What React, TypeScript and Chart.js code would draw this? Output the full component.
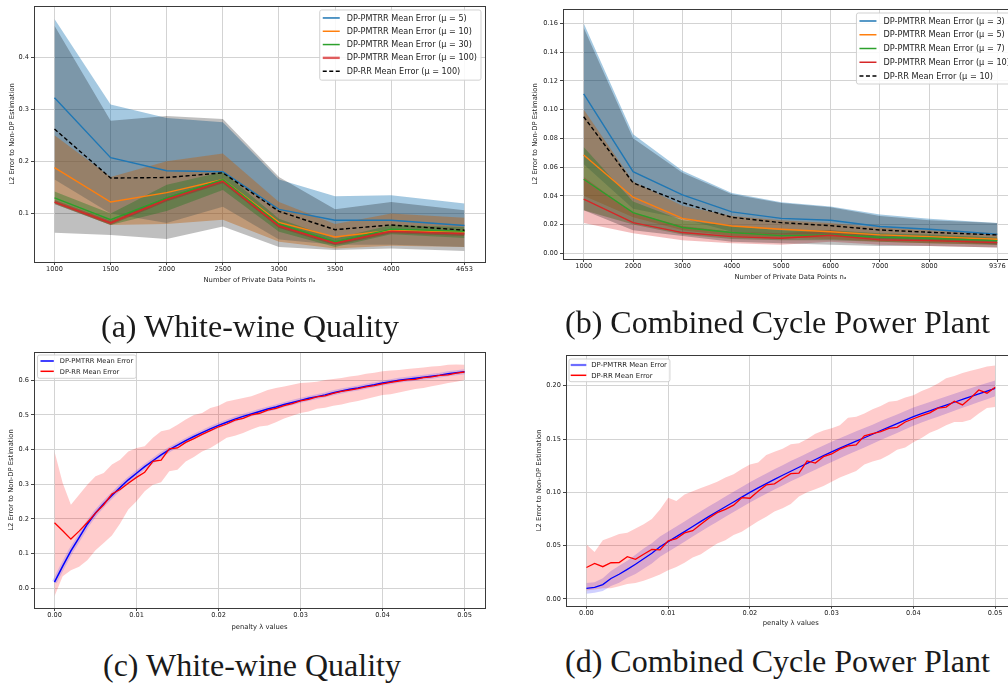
import React, { useEffect, useRef } from "react";
import { Chart, registerables } from "chart.js";
Chart.register(...registerables);
Chart.defaults.font.family = '"DejaVu Sans", sans-serif';

// ---------------- (a) White-wine Quality ----------------
const aSizes = [1000, 1500, 2000, 2500, 3000, 3500, 4000, 4653];
const aXTicks = [1000, 1500, 2000, 2500, 3000, 3500, 4000, 4653];
const aYTicks = [0.1, 0.2, 0.3, 0.4];
const aMu5Mean = [0.322, 0.207, 0.182, 0.180, 0.108, 0.087, 0.087, 0.077];
const aMu5Hi = [0.473, 0.309, 0.283, 0.275, 0.165, 0.133, 0.135, 0.119];
const aMu5Lo = [0.165, 0.100, 0.082, 0.113, 0.050, 0.040, 0.040, 0.036];
const aMu10Mean = [0.188, 0.122, 0.140, 0.165, 0.083, 0.055, 0.068, 0.065];
const aMu10Hi = [0.250, 0.170, 0.200, 0.215, 0.122, 0.080, 0.100, 0.092];
const aMu10Lo = [0.120, 0.078, 0.080, 0.088, 0.046, 0.033, 0.038, 0.036];
const aMu30Mean = [0.130, 0.088, 0.130, 0.165, 0.080, 0.046, 0.070, 0.066];
const aMu30Hi = [0.142, 0.100, 0.155, 0.180, 0.090, 0.052, 0.078, 0.074];
const aMu30Lo = [0.118, 0.078, 0.105, 0.145, 0.065, 0.036, 0.060, 0.053];
const aMu100Mean = [0.122, 0.082, 0.127, 0.162, 0.076, 0.043, 0.066, 0.061];
const aMu100Hi = [0.126, 0.086, 0.131, 0.166, 0.080, 0.047, 0.070, 0.065];
const aMu100Lo = [0.118, 0.078, 0.123, 0.158, 0.072, 0.039, 0.062, 0.057];
const aRrMean = [0.262, 0.168, 0.169, 0.178, 0.104, 0.069, 0.078, 0.068];
const aRrHi = [0.460, 0.278, 0.287, 0.281, 0.170, 0.108, 0.122, 0.106];
const aRrLo = [0.063, 0.059, 0.051, 0.075, 0.036, 0.030, 0.033, 0.028];

// ---------------- (b) Combined Cycle Power Plant ----------------
const bSizes = [1000, 2000, 3000, 4000, 5000, 6000, 7000, 8000, 9376];
const bXTicks = [1000, 2000, 3000, 4000, 5000, 6000, 7000, 8000, 9376];
const bYTicks = [0, 0.02, 0.04, 0.06, 0.08, 0.1, 0.12, 0.14, 0.16];
const bMu3Mean = [0.111, 0.0568, 0.0406, 0.0288, 0.0243, 0.023, 0.0186, 0.0167, 0.0132];
const bMu3Hi = [0.160, 0.0828, 0.0575, 0.042, 0.0355, 0.0325, 0.027, 0.024, 0.021];
const bMu3Lo = [0.062, 0.031, 0.024, 0.015, 0.013, 0.013, 0.010, 0.009, 0.006];
const bMu5Mean = [0.0684, 0.039, 0.0243, 0.019, 0.0167, 0.015, 0.0128, 0.0116, 0.0097];
const bMu5Hi = [0.100, 0.050, 0.033, 0.026, 0.023, 0.021, 0.018, 0.016, 0.014];
const bMu5Lo = [0.040, 0.025, 0.016, 0.012, 0.011, 0.010, 0.008, 0.007, 0.006];
const bMu7Mean = [0.0515, 0.0283, 0.0179, 0.0144, 0.0123, 0.0128, 0.0111, 0.0104, 0.0088];
const bMu7Hi = [0.074, 0.036, 0.023, 0.019, 0.016, 0.016, 0.014, 0.013, 0.011];
const bMu7Lo = [0.030, 0.020, 0.013, 0.010, 0.009, 0.009, 0.008, 0.007, 0.006];
const bMu10Mean = [0.0376, 0.0213, 0.0144, 0.0116, 0.0104, 0.0125, 0.0093, 0.0088, 0.0074];
const bMu10Hi = [0.053, 0.028, 0.019, 0.015, 0.014, 0.016, 0.012, 0.011, 0.010];
const bMu10Lo = [0.021, 0.014, 0.009, 0.007, 0.006, 0.008, 0.006, 0.005, 0.004];
const bRrMean = [0.095, 0.049, 0.0352, 0.025, 0.0213, 0.0192, 0.0162, 0.0146, 0.0128];
const bRrHi = [0.157, 0.080, 0.056, 0.041, 0.035, 0.032, 0.026, 0.023, 0.021];
const bRrLo = [0.030, 0.016, 0.012, 0.008, 0.007, 0.006, 0.005, 0.005, 0.004];

// ---------------- penalty lambda values (c, d) ----------------
const lambdas = [0, 0.001, 0.002, 0.003, 0.004, 0.005, 0.006, 0.007, 0.008, 0.009,
  0.01, 0.011, 0.012, 0.013, 0.014, 0.015, 0.016, 0.017, 0.018, 0.019,
  0.02, 0.021, 0.022, 0.023, 0.024, 0.025, 0.026, 0.027, 0.028, 0.029,
  0.03, 0.031, 0.032, 0.033, 0.034, 0.035, 0.036, 0.037, 0.038, 0.039,
  0.04, 0.041, 0.042, 0.043, 0.044, 0.045, 0.046, 0.047, 0.048, 0.049, 0.05];
const lamTicks = [0, 0.01, 0.02, 0.03, 0.04, 0.05];

// (c) White-wine Quality
const cYTicks = [0, 0.1, 0.2, 0.3, 0.4, 0.5, 0.6];
const cPmMean = [0.018, 0.064, 0.108, 0.146, 0.185, 0.217, 0.244, 0.268, 0.291, 0.313,
  0.332, 0.351, 0.368, 0.385, 0.400, 0.413, 0.426, 0.438, 0.449, 0.460,
  0.470, 0.479, 0.488, 0.496, 0.503, 0.510, 0.517, 0.523, 0.530, 0.536,
  0.542, 0.548, 0.553, 0.558, 0.564, 0.569, 0.574, 0.578, 0.583, 0.587,
  0.592, 0.596, 0.600, 0.603, 0.606, 0.609, 0.612, 0.615, 0.619, 0.622, 0.625];
const cRrMean = [0.189, 0.166, 0.142, 0.165, 0.190, 0.217, 0.241, 0.272, 0.285, 0.303,
  0.320, 0.335, 0.366, 0.370, 0.402, 0.405, 0.421, 0.432, 0.444, 0.455,
  0.466, 0.474, 0.485, 0.490, 0.500, 0.505, 0.514, 0.519, 0.527, 0.533,
  0.541, 0.545, 0.552, 0.555, 0.562, 0.568, 0.572, 0.576, 0.581, 0.585,
  0.590, 0.594, 0.598, 0.601, 0.603, 0.608, 0.610, 0.614, 0.616, 0.621, 0.624];
const cRrHi = [0.395, 0.304, 0.241, 0.270, 0.299, 0.323, 0.333, 0.357, 0.371, 0.395,
  0.405, 0.410, 0.434, 0.453, 0.458, 0.472, 0.487, 0.500, 0.506, 0.520,
  0.527, 0.539, 0.544, 0.549, 0.554, 0.563, 0.572, 0.578, 0.582, 0.587,
  0.592, 0.594, 0.596, 0.601, 0.604, 0.607, 0.611, 0.614, 0.619, 0.622,
  0.626, 0.628, 0.630, 0.633, 0.635, 0.637, 0.640, 0.641, 0.645, 0.646, 0.645];
const cRrLo = [-0.023, 0.035, 0.052, 0.062, 0.081, 0.110, 0.131, 0.152, 0.187, 0.227,
  0.251, 0.280, 0.299, 0.306, 0.338, 0.342, 0.366, 0.379, 0.395, 0.405,
  0.419, 0.434, 0.440, 0.448, 0.458, 0.467, 0.470, 0.479, 0.490, 0.498,
  0.506, 0.510, 0.518, 0.521, 0.527, 0.530, 0.536, 0.540, 0.546, 0.552,
  0.558, 0.560, 0.565, 0.570, 0.575, 0.578, 0.583, 0.587, 0.592, 0.596, 0.601];

// (d) Combined Cycle Power Plant
const dYTicks = [0, 0.05, 0.1, 0.15, 0.2];
const dPmMean = [0.0100, 0.0108, 0.0135, 0.0192, 0.0232, 0.0278, 0.0325, 0.0378, 0.0428, 0.0490,
  0.0538, 0.0585, 0.0632, 0.0680, 0.0728, 0.0775, 0.0820, 0.0865, 0.0910, 0.0955,
  0.1000, 0.1042, 0.1082, 0.1122, 0.1160, 0.1198, 0.1235, 0.1272, 0.1308, 0.1344,
  0.1380, 0.1414, 0.1448, 0.1480, 0.1512, 0.1545, 0.1580, 0.1612, 0.1644, 0.1677,
  0.1710, 0.1738, 0.1765, 0.1792, 0.1818, 0.1845, 0.1872, 0.1898, 0.1924, 0.1950, 0.1975];
const dPmHi = [0.0150, 0.0158, 0.0195, 0.0262, 0.0312, 0.0358, 0.0415, 0.0473, 0.0523, 0.0585,
  0.0633, 0.0680, 0.0727, 0.0775, 0.0823, 0.0870, 0.0915, 0.0960, 0.1005, 0.1050,
  0.1095, 0.1137, 0.1177, 0.1217, 0.1255, 0.1293, 0.1330, 0.1367, 0.1403, 0.1439,
  0.1475, 0.1508, 0.1541, 0.1572, 0.1603, 0.1635, 0.1669, 0.1700, 0.1731, 0.1763,
  0.1795, 0.1822, 0.1848, 0.1874, 0.1899, 0.1925, 0.1951, 0.1976, 0.2001, 0.2026, 0.2050];
const dPmLo = [0.0050, 0.0058, 0.0075, 0.0122, 0.0152, 0.0198, 0.0235, 0.0283, 0.0333, 0.0395,
  0.0443, 0.0490, 0.0537, 0.0585, 0.0633, 0.0680, 0.0725, 0.0770, 0.0815, 0.0860,
  0.0905, 0.0947, 0.0987, 0.1027, 0.1065, 0.1103, 0.1140, 0.1177, 0.1213, 0.1249,
  0.1285, 0.1320, 0.1355, 0.1388, 0.1421, 0.1455, 0.1491, 0.1524, 0.1557, 0.1591,
  0.1625, 0.1654, 0.1682, 0.1710, 0.1737, 0.1765, 0.1793, 0.1820, 0.1847, 0.1874, 0.1900];
const dRrMean = [0.0295, 0.0334, 0.0303, 0.0340, 0.0342, 0.0397, 0.0372, 0.0420, 0.0465, 0.0460,
  0.0545, 0.0565, 0.0620, 0.0640, 0.0700, 0.0760, 0.0810, 0.0840, 0.0880, 0.0950,
  0.0945, 0.1010, 0.1070, 0.1080, 0.1130, 0.1175, 0.1180, 0.1295, 0.1275, 0.1335,
  0.1360, 0.1405, 0.1435, 0.1445, 0.1530, 0.1550, 0.1570, 0.1600, 0.1610, 0.1660,
  0.1690, 0.1720, 0.1745, 0.1790, 0.1800, 0.1855, 0.1820, 0.1885, 0.1960, 0.1930, 0.1985];
const dRrHi = [0.051, 0.044, 0.055, 0.058, 0.061, 0.062, 0.066, 0.070, 0.075, 0.084,
  0.095, 0.092, 0.098, 0.101, 0.104, 0.107, 0.110, 0.114, 0.117, 0.122,
  0.126, 0.128, 0.135, 0.138, 0.141, 0.145, 0.146, 0.150, 0.155, 0.158,
  0.160, 0.163, 0.170, 0.171, 0.174, 0.178, 0.181, 0.185, 0.186, 0.189,
  0.191, 0.195, 0.198, 0.202, 0.207, 0.209, 0.212, 0.214, 0.216, 0.218, 0.219];
const dRrLo = [0.008, 0.009, 0.010, 0.010, 0.012, 0.014, 0.015, 0.017, 0.020, 0.023,
  0.027, 0.030, 0.034, 0.039, 0.042, 0.047, 0.052, 0.055, 0.060, 0.063,
  0.068, 0.073, 0.077, 0.082, 0.085, 0.089, 0.096, 0.100, 0.103, 0.106,
  0.110, 0.114, 0.117, 0.120, 0.126, 0.129, 0.131, 0.135, 0.140, 0.142,
  0.147, 0.151, 0.156, 0.159, 0.163, 0.166, 0.166, 0.168, 0.174, 0.179, 0.180];

// ---------------- styling ----------------
const C0 = "#1f77b4", C1 = "#ff7f0e", C2 = "#2ca02c", C3 = "#d62728";
const TXT = "#222222";

type Series = {
  label: string; mean: number[]; hi?: number[]; lo?: number[];
  color: string; fill?: string; dash?: number[]; width?: number; halo?: string;
};

type PanelSpec = {
  xs: number[]; series: Series[];
  xMin: number; xMax: number; yMin: number; yMax: number;
  xTicks: number[]; yTicks: number[]; xDec: number; yDec: number;
  xTitle: string; yTitle: string;
  padding: { left: number; right: number; top: number; bottom: number };
  yWidth: number; xHeight: number; yTitlePad: number;
  legend: any;
};

const framePlugin = {
  id: "mplFrame",
  afterDatasetsDraw(chart: any) {
    const { ctx, chartArea } = chart;
    const { left, top, right, bottom } = chartArea;
    ctx.save();
    ctx.strokeStyle = "#3a3a3a";
    ctx.lineWidth = 1;
    ctx.strokeRect(Math.round(left) + 0.5, Math.round(top) + 0.5,
      Math.round(right) - Math.round(left), Math.round(bottom) - Math.round(top));
    ctx.restore();
  },
};

const legendPlugin = {
  id: "mplLegend",
  afterDatasetsDraw(chart: any, _args: any, opts: any) {
    if (!opts || !opts.items) return;
    const { ctx, chartArea } = chart;
    ctx.save();
    ctx.font = `${opts.fontSize}px "DejaVu Sans"`;
    let maxW = 0;
    opts.items.forEach((it: any) => { maxW = Math.max(maxW, ctx.measureText(it.label).width); });
    const w = opts.textOffset + maxW + opts.padRight;
    const h = opts.rowOffset + (opts.items.length - 1) * opts.spacing + opts.padBottom;
    const x0 = opts.corner === "right" ? chartArea.right - opts.mx - w : chartArea.left + opts.mx;
    const y0 = chartArea.top + opts.my;
    ctx.beginPath();
    const r = 2;
    ctx.moveTo(x0 + r, y0);
    ctx.lineTo(x0 + w - r, y0); ctx.quadraticCurveTo(x0 + w, y0, x0 + w, y0 + r);
    ctx.lineTo(x0 + w, y0 + h - r); ctx.quadraticCurveTo(x0 + w, y0 + h, x0 + w - r, y0 + h);
    ctx.lineTo(x0 + r, y0 + h); ctx.quadraticCurveTo(x0, y0 + h, x0, y0 + h - r);
    ctx.lineTo(x0, y0 + r); ctx.quadraticCurveTo(x0, y0, x0 + r, y0);
    ctx.closePath();
    ctx.fillStyle = "rgba(255,255,255,0.85)";
    ctx.fill();
    ctx.strokeStyle = "rgba(204,204,204,0.9)";
    ctx.lineWidth = 1;
    ctx.stroke();
    opts.items.forEach((it: any, i: number) => {
      const y = y0 + opts.rowOffset + i * opts.spacing;
      ctx.beginPath();
      ctx.setLineDash(it.dash || []);
      ctx.strokeStyle = it.color;
      ctx.lineWidth = it.width || 1.5;
      ctx.moveTo(x0 + opts.lineStart, y);
      ctx.lineTo(x0 + opts.lineEnd, y);
      ctx.stroke();
      ctx.setLineDash([]);
      ctx.fillStyle = TXT;
      ctx.textBaseline = "middle";
      ctx.textAlign = "left";
      ctx.fillText(it.label, x0 + opts.textOffset, y + 0.5);
    });
    ctx.restore();
  },
};

Chart.register(framePlugin, legendPlugin);

function pts(xs: number[], ys: number[]) {
  return xs.map((x, i) => ({ x, y: ys[i] }));
}

function buildConfig(p: PanelSpec): any {
  const datasets: any[] = [];
  p.series.forEach((s, i) => {
    if (s.hi && s.lo) {
      datasets.push({
        data: pts(p.xs, s.hi), borderColor: "rgba(0,0,0,0)", borderWidth: 0,
        pointRadius: 0, fill: false, order: 200 - i,
      });
      datasets.push({
        data: pts(p.xs, s.lo), borderColor: "rgba(0,0,0,0)", borderWidth: 0,
        pointRadius: 0, fill: "-1", backgroundColor: s.fill, order: 200 - i,
      });
    }
  });
  p.series.forEach((s, i) => {
    if (s.halo) {
      datasets.push({
        data: pts(p.xs, s.mean), borderColor: s.halo, borderWidth: 5,
        pointRadius: 0, fill: false, order: 100 - i,
      });
    }
  });
  p.series.forEach((s, i) => {
    datasets.push({
      label: s.label, data: pts(p.xs, s.mean), borderColor: s.color,
      borderWidth: s.width || 1.4, borderDash: s.dash || [], pointRadius: 0,
      fill: false, order: 50 - i,
    });
  });
  const tickFont = { size: 6.6 };
  const titleFont = { size: 6.8 };
  return {
    type: "line",
    data: { datasets },
    options: {
      responsive: false, animation: false, devicePixelRatio: 1, events: [],
      layout: { padding: p.padding },
      elements: { line: { tension: 0 } },
      plugins: {
        legend: { display: false }, tooltip: { enabled: false },
        mplLegend: p.legend,
      },
      scales: {
        x: {
          type: "linear", min: p.xMin, max: p.xMax,
          afterBuildTicks: (sc: any) => { sc.ticks = p.xTicks.map((v) => ({ value: v })); },
          afterFit: (sc: any) => { sc.height = p.xHeight; },
          ticks: {
            font: tickFont, color: TXT, padding: 0.5, maxRotation: 0, autoSkip: false,
            callback: (v: any) => Number(v).toFixed(p.xDec),
          },
          grid: { color: "#d3d3d3", lineWidth: 1, tickLength: 3, tickColor: "#444", drawTicks: true },
          border: { display: false },
          title: { display: true, text: p.xTitle, font: titleFont, color: TXT, padding: { top: 0, bottom: 0 } },
        },
        y: {
          type: "linear", min: p.yMin, max: p.yMax,
          afterBuildTicks: (sc: any) => { sc.ticks = p.yTicks.map((v) => ({ value: v })); },
          afterFit: (sc: any) => { sc.width = p.yWidth; },
          ticks: {
            font: tickFont, color: TXT, padding: 2, autoSkip: false,
            callback: (v: any) => Number(v).toFixed(p.yDec),
          },
          grid: { color: "#d3d3d3", lineWidth: 1, tickLength: 3, tickColor: "#444", drawTicks: true },
          border: { display: false },
          title: { display: true, text: p.yTitle, font: titleFont, color: TXT, padding: { top: p.yTitlePad, bottom: 0 } },
        },
      },
    },
  };
}

const YT = "L2 Error to Non-DP Estimation";
const XT_N = "Number of Private Data Points n\u2090";
const XT_L = "penalty \u03bb values";

const specA: PanelSpec = {
  xs: aSizes,
  series: [
    { label: "DP-PMTRR Mean Error (\u03bc = 5)", mean: aMu5Mean, hi: aMu5Hi, lo: aMu5Lo, color: C0, fill: "rgba(31,119,180,0.4)" },
    { label: "DP-PMTRR Mean Error (\u03bc = 10)", mean: aMu10Mean, hi: aMu10Hi, lo: aMu10Lo, color: C1, fill: "rgba(255,127,14,0.4)" },
    { label: "DP-PMTRR Mean Error (\u03bc = 30)", mean: aMu30Mean, hi: aMu30Hi, lo: aMu30Lo, color: C2, fill: "rgba(44,160,44,0.4)" },
    { label: "DP-PMTRR Mean Error (\u03bc = 100)", mean: aMu100Mean, hi: aMu100Hi, lo: aMu100Lo, color: C3, fill: "rgba(214,39,40,0.4)" },
    { label: "DP-RR Mean Error (\u03bc = 100)", mean: aRrMean, hi: aRrHi, lo: aRrLo, color: "#000000", fill: "rgba(0,0,0,0.25)", dash: [4, 2.5] },
  ],
  xMin: 817.35, xMax: 4835.65, yMin: 0.007, yMax: 0.498,
  xTicks: aXTicks, yTicks: aYTicks, xDec: 0, yDec: 1,
  xTitle: XT_N, yTitle: YT,
  padding: { left: 0, right: 19, top: 5, bottom: 6 },
  yWidth: 34, xHeight: 22, yTitlePad: 8,
  legend: {
    items: [], fontSize: 8.1, corner: "right", mx: 4, my: 4, rowOffset: 8, spacing: 13.3,
    padBottom: 9, lineStart: 3, lineEnd: 20, textOffset: 27, padRight: 4,
  },
};
specA.legend.items = specA.series.map((s, i) => ({
  label: s.label, color: i === 3 ? "rgba(214,39,40,0.75)" : s.color, dash: s.dash, width: i === 3 ? 2.4 : 1.5,
}));

const specB: PanelSpec = {
  xs: bSizes,
  series: [
    { label: "DP-PMTRR Mean Error (\u03bc = 3)", mean: bMu3Mean, hi: bMu3Hi, lo: bMu3Lo, color: C0, fill: "rgba(31,119,180,0.4)" },
    { label: "DP-PMTRR Mean Error (\u03bc = 5)", mean: bMu5Mean, hi: bMu5Hi, lo: bMu5Lo, color: C1, fill: "rgba(255,127,14,0.4)" },
    { label: "DP-PMTRR Mean Error (\u03bc = 7)", mean: bMu7Mean, hi: bMu7Hi, lo: bMu7Lo, color: C2, fill: "rgba(44,160,44,0.4)" },
    { label: "DP-PMTRR Mean Error (\u03bc = 10)", mean: bMu10Mean, hi: bMu10Hi, lo: bMu10Lo, color: C3, fill: "rgba(214,39,40,0.3)" },
    { label: "DP-RR Mean Error (\u03bc = 10)", mean: bRrMean, hi: bRrHi, lo: bRrLo, color: "#000000", fill: "rgba(0,0,0,0.25)", dash: [4, 2.5] },
  ],
  xMin: 581, xMax: 9795, yMin: -0.004, yMax: 0.170,
  xTicks: bXTicks, yTicks: bYTicks, xDec: 0, yDec: 2,
  xTitle: XT_N, yTitle: YT,
  padding: { left: 0, right: 10, top: 9, bottom: 9 },
  yWidth: 35, xHeight: 22, yTitlePad: 3.6,
  legend: {
    items: [], fontSize: 8.2, corner: "right", mx: 4, my: 4, rowOffset: 8, spacing: 13.75,
    padBottom: 8, lineStart: 3, lineEnd: 20, textOffset: 27, padRight: 4,
  },
};
specB.legend.items = specB.series.map((s) => ({ label: s.label, color: s.color, dash: s.dash }));

const specC: PanelSpec = {
  xs: lambdas,
  series: [
    { label: "DP-PMTRR Mean Error", mean: cPmMean, color: "#0000ff", halo: "rgba(80,60,255,0.22)", width: 1.5 },
    { label: "DP-RR Mean Error", mean: cRrMean, hi: cRrHi, lo: cRrLo, color: "#ff0000", fill: "rgba(255,0,0,0.2)", width: 1.3 },
  ],
  xMin: -0.0025, xMax: 0.0525, yMin: -0.0568, yMax: 0.6817,
  xTicks: lamTicks, yTicks: cYTicks, xDec: 2, yDec: 1,
  xTitle: XT_L, yTitle: YT,
  padding: { left: 0, right: 19, top: 12, bottom: 1 },
  yWidth: 34, xHeight: 23, yTitlePad: 7.6,
  legend: {
    items: [], fontSize: 6.7, corner: "left", mx: 3.5, my: 3, rowOffset: 6, spacing: 10.3,
    padBottom: 7, lineStart: 3, lineEnd: 16.3, textOffset: 22.3, padRight: 3,
  },
};
specC.legend.items = specC.series.map((s) => ({ label: s.label, color: s.color }));

const specD: PanelSpec = {
  xs: lambdas,
  series: [
    { label: "DP-PMTRR Mean Error", mean: dPmMean, hi: dPmHi, lo: dPmLo, color: "#0000ff", fill: "rgba(40,40,255,0.22)", width: 1.3 },
    { label: "DP-RR Mean Error", mean: dRrMean, hi: dRrHi, lo: dRrLo, color: "#ff0000", fill: "rgba(255,0,0,0.2)", width: 1.3 },
  ],
  xMin: -0.0025, xMax: 0.0525, yMin: -0.0063, yMax: 0.2288,
  xTicks: lamTicks, yTicks: dYTicks, xDec: 2, yDec: 2,
  xTitle: XT_L, yTitle: YT,
  padding: { left: 0, right: 10.4, top: 15, bottom: 2.3 },
  yWidth: 35, xHeight: 22, yTitlePad: 4,
  legend: {
    items: [], fontSize: 6.9, corner: "left", mx: 3, my: 4, rowOffset: 6, spacing: 10.3,
    padBottom: 6.4, lineStart: 1.7, lineEnd: 17.3, textOffset: 22.3, padRight: 3,
  },
};
specD.legend.items = [
  { label: specD.series[0].label, color: "rgba(60,60,255,0.75)", width: 2.2 },
  { label: specD.series[1].label, color: "#ff0000" },
];

function Panel(props: { spec: PanelSpec; left: number; top: number; width: number; height: number }) {
  const ref = useRef<HTMLCanvasElement | null>(null);
  useEffect(() => {
    if (!ref.current) return;
    const chart = new Chart(ref.current, buildConfig(props.spec));
    return () => chart.destroy();
  }, []);
  return (
    <canvas
      ref={ref}
      width={props.width}
      height={props.height}
      style={{ position: "absolute", left: props.left, top: props.top, width: props.width, height: props.height }}
    />
  );
}

function Caption(props: { text: string; left: number; top: number }) {
  return (
    <div
      style={{
        position: "absolute", left: props.left, top: props.top, whiteSpace: "nowrap",
        fontFamily: '"Liberation Serif", serif', fontSize: 32, lineHeight: "32px", color: "#1a1a1a",
      }}
    >
      {props.text}
    </div>
  );
}

export default function App() {
  return (
    <div style={{ position: "absolute", left: 0, top: 0, width: 1008, height: 689, overflow: "hidden", background: "#ffffff" }}>
      <Panel spec={specA} left={0} top={0} width={504} height={290} />
      <Panel spec={specB} left={528} top={0} width={500} height={290} />
      <Panel spec={specC} left={0} top={340} width={504} height={292} />
      <Panel spec={specD} left={531} top={340} width={495} height={290} />
      <Caption text="(a) White-wine Quality" left={101} top={310} />
      <Caption text="(b) Combined Cycle Power Plant" left={565} top={306} />
      <Caption text="(c) White-wine Quality" left={103} top={649} />
      <Caption text="(d) Combined Cycle Power Plant" left={565} top={645} />
    </div>
  );
}
